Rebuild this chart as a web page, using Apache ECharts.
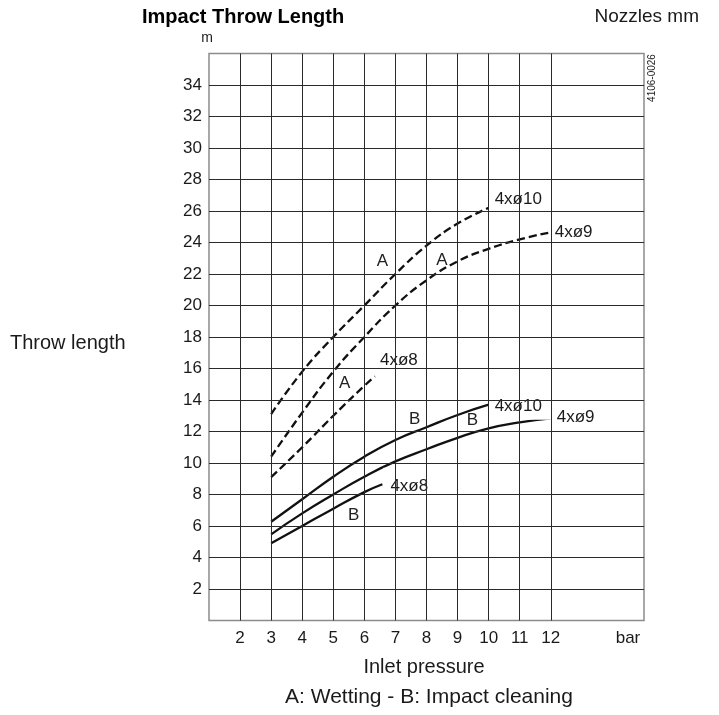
<!DOCTYPE html>
<html><head><meta charset="utf-8">
<script src="https://cdn.jsdelivr.net/npm/echarts@6/dist/echarts.min.js"></script>
<style>html,body{margin:0;padding:0;background:#fff}#c{width:719px;height:715px}</style>
</head><body><div id="c"></div>
<script>
// ---- data ----
const xGridTicks = [2, 3, 4, 5, 6, 7, 8, 9, 10, 11, 12];
const yGridTicks = [2, 4, 6, 8, 10, 12, 14, 16, 18, 20, 22, 24, 26, 28, 30, 32, 34];

// A: Wetting (dashed)
const pressA10 = [3, 4, 5, 6, 7, 8, 9, 10];
const throwA10 = [13.1, 15.8, 18.0, 20.0, 22.0, 23.8, 25.2, 26.2];
const pressA9 = [3, 4, 5, 6, 7, 8, 9, 10, 11, 12];
const throwA9 = [10.4, 13.2, 15.8, 18.0, 20.0, 21.6, 22.8, 23.6, 24.2, 24.65];
const pressA8 = [3, 4, 5, 6, 6.34];
const throwA8 = [9.1, 11.0, 13.0, 14.9, 15.5];

// B: Impact cleaning (solid)
const pressB10 = [3, 4, 5, 6, 7, 8, 9, 10];
const throwB10 = [6.27, 7.7, 9.13, 10.4, 11.46, 12.27, 13.05, 13.7];
const pressB9 = [3, 4, 5, 6, 7, 8, 9, 10, 11, 12];
const throwB9 = [5.47, 6.8, 8.0, 9.13, 10.1, 10.87, 11.6, 12.2, 12.58, 12.84];
const pressB8 = [3, 4, 5, 6, 6.58];
const throwB8 = [4.9, 6.0, 7.1, 8.15, 8.65];

// curve letters
const letterText = ['A', 'A', 'A', 'B', 'B', 'B'];
const letterX = [6.58, 8.5, 5.37, 7.62, 9.48, 5.66];
const letterY = [22.83, 22.89, 15.06, 12.79, 12.69, 6.65];

const FONT = "'Liberation Sans', Arial, sans-serif";
const INK = '#1a1a1a';
const zip = (xs, ys) => xs.map((x, i) => [x, ys[i]]);

function curve(name, xs, ys, dashed, lbl) {
  return {
    name, type: 'line', data: zip(xs, ys), z: 3,
    smooth: 0.5, showSymbol: false, symbol: 'none',
    lineStyle: { color: '#111', width: 2.3, type: dashed ? [8, 4] : 'solid' },
    endLabel: Object.assign({
      show: true, formatter: lbl.text, fontFamily: FONT, fontSize: 17, color: INK,
      backgroundColor: '#fff'
    }, lbl.style)
  };
}

const chart = echarts.init(document.getElementById('c'), null, { renderer: 'canvas' });
chart.setOption({
  animation: false,
  backgroundColor: '#fff',
  grid: { left: 209, right: 75, top: 53.5, bottom: 94.5, show: true, borderColor: '#8c8c8c', borderWidth: 1.5, backgroundColor: 'transparent' },
  xAxis: {
    type: 'value', min: 1, max: 15, interval: 1,
    axisLine: { show: false }, axisTick: { show: false }, splitLine: { show: false },
    axisLabel: { margin: 9, fontFamily: FONT, fontSize: 17, color: INK,
      formatter: v => (xGridTicks.indexOf(v) >= 0 ? String(v) : '') },
    name: 'bar', nameLocation: 'end', nameGap: -16,
    nameTextStyle: { fontFamily: FONT, fontSize: 17, color: INK, align: 'center', verticalAlign: 'top', padding: [9, 0, 0, 0] }
  },
  yAxis: {
    type: 'value', min: 0, max: 36, interval: 2,
    axisLine: { show: false }, axisTick: { show: false }, splitLine: { show: false },
    axisLabel: { margin: 7, fontFamily: FONT, fontSize: 17, color: INK,
      formatter: v => (yGridTicks.indexOf(v) >= 0 ? String(v) : '') }
  },
  graphic: [
    { type: 'text', x: 142, y: 17, style: { text: 'Impact Throw Length', font: "bold 20px " + FONT, fill: '#000', align: 'left', verticalAlign: 'middle' } },
    { type: 'text', x: 699, y: 17, style: { text: 'Nozzles mm', font: "19px " + FONT, fill: INK, align: 'right', verticalAlign: 'middle' } },
    { type: 'text', x: 207, y: 38, style: { text: 'm', font: "14px " + FONT, fill: INK, align: 'center', verticalAlign: 'middle' } },
    { type: 'text', x: 10, y: 343, style: { text: 'Throw length', font: "20px " + FONT, fill: INK, align: 'left', verticalAlign: 'middle' } },
    { type: 'text', x: 424, y: 667, style: { text: 'Inlet pressure', font: "20px " + FONT, fill: INK, align: 'center', verticalAlign: 'middle' } },
    { type: 'text', x: 429, y: 697, style: { text: 'A: Wetting - B: Impact cleaning', font: "21px " + FONT, fill: INK, align: 'center', verticalAlign: 'middle' } },
    { type: 'text', x: 652, y: 78, rotation: Math.PI / 2, style: { text: '4106-0026', font: "10px " + FONT, fill: INK, align: 'center', verticalAlign: 'middle' } }
  ],
  series: [
    {
      name: 'grid', type: 'line', data: [], z: 1, silent: true,
      markLine: {
        silent: true, symbol: 'none', label: { show: false },
        lineStyle: { color: '#2a2a2a', width: 1, type: 'solid' },
        data: xGridTicks.map(v => ({ xAxis: v })).concat(yGridTicks.map(v => ({ yAxis: v })))
      }
    },
    curve('A 4xø10', pressA10, throwA10, true, { text: '4xø10', style: { distance: 4, padding: [2, 4, 2, 2], offset: [0, -9] } }),
    curve('A 4xø9', pressA9, throwA9, true, { text: '4xø9', style: { distance: 2, padding: [2, 3, 2, 2], offset: [0, 0] } }),
    curve('A 4xø8', pressA8, throwA8, true, { text: '4xø8', style: { distance: 2, padding: [30, 8, 16, 3], offset: [0, -16.5] } }),
    curve('B 4xø10', pressB10, throwB10, false, { text: '4xø10', style: { distance: 3, padding: [1, 10, 9, 3], offset: [0, 1.4] } }),
    curve('B 4xø9', pressB9, throwB9, false, { text: '4xø9', style: { distance: 4, padding: [2, 3, 2, 2], offset: [0, -1] } }),
    curve('B 4xø8', pressB8, throwB8, false, { text: '4xø8', style: { distance: 1, padding: [8, 7, 12, 7], offset: [0, 2] } }),
    {
      name: 'letters', type: 'scatter', z: 4, symbolSize: 0, silent: true,
      itemStyle: { opacity: 1 },
      data: letterX.map((x, i) => [x, letterY[i]]),
      label: { show: true, position: 'inside', fontFamily: FONT, fontSize: 17, color: '#222', opacity: 1,
        formatter: p => letterText[p.dataIndex] }
    }
  ]
});
</script>
</body></html>
